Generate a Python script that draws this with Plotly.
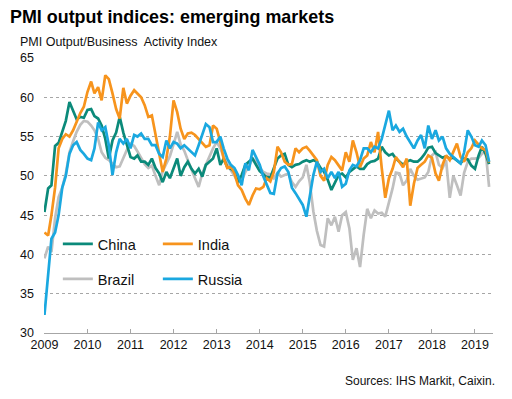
import pandas as pd
import plotly.graph_objects as go

start_month = "2009-01-01"
n_months = 125

china = [
    45.4, 48.4, 48.8, 53.8, 54.2, 55.5, 57.0, 59.4, 58.2, 57.2, 57.5, 57.4,
    58.4, 58.5, 57.6, 57.3, 56.4, 54.7, 52.2, 54.5, 55.5, 57.5, 55.5, 54.0,
    52.4, 52.2, 52.6, 51.8, 51.8, 51.4, 52.2, 51.0, 50.3, 49.2, 50.5, 49.7,
    51.0, 52.2, 50.0, 51.1, 51.8, 50.9, 50.3, 50.9, 49.9, 51.4, 51.8, 52.2,
    53.5, 51.4, 52.2, 51.1, 50.9, 50.5, 49.2, 50.1, 51.4, 51.8, 52.2, 51.4,
    50.6, 50.2, 49.8, 49.8, 50.9, 52.2, 52.6, 52.8, 51.4, 51.1, 51.4, 51.5,
    51.8, 52.0, 51.8, 52.0, 51.8, 51.0, 50.5, 49.5, 48.2, 49.2, 50.1, 50.3,
    49.8, 50.5, 50.9, 51.2, 50.9, 50.9, 51.5, 51.8, 51.9, 52.2, 53.7, 53.0,
    52.6, 52.8, 52.2, 51.8, 51.4, 51.8, 52.0, 51.8, 51.8, 52.2, 52.8, 53.6,
    53.7, 52.9, 52.6, 52.3, 52.5, 52.2, 52.3, 52.0, 51.6, 52.2, 52.1, 51.3,
    50.9, 52.6, 53.7, 52.8, 51.5,
]

india = [
    42.8, 42.4, 45.0, 48.5, 53.5, 54.7, 55.3, 55.0, 55.8, 56.9, 58.0, 58.8,
    60.7, 62.0, 60.5, 61.3, 59.6, 62.8, 62.3, 60.5, 58.5, 57.3, 61.2, 59.2,
    60.2, 60.9, 60.5, 60.0, 59.0, 57.5, 57.7, 55.2, 52.6, 50.5, 52.2, 55.0,
    59.6, 58.1, 56.0, 54.7, 55.4, 55.5, 55.2, 54.7, 54.3, 53.7, 53.9, 56.4,
    56.0, 54.3, 52.2, 51.0, 51.2, 50.3, 48.8, 48.2, 47.1, 46.3, 47.5, 48.4,
    48.3, 48.6, 49.7, 49.3, 50.5, 53.7, 53.0, 51.8, 51.4, 51.5, 53.5, 53.0,
    53.5, 53.7, 53.2, 52.6, 52.0, 50.0, 49.4, 51.4, 52.4, 52.0, 51.4, 50.7,
    53.0, 51.8, 54.5, 53.0, 51.1, 52.2, 52.6, 54.3, 53.0, 55.6, 51.0, 47.2,
    49.7, 50.9, 52.4, 51.8, 51.1, 52.2, 46.2, 49.0, 51.0, 51.4, 51.8, 52.6,
    52.3, 50.3, 49.4, 51.4, 52.6, 52.0, 53.0, 54.1, 52.4, 51.8, 53.0, 53.5,
    54.5, 53.9, 53.5, 53.3, 51.7,
]

brazil = [
    39.5, 41.0, 40.3, 44.6, 47.3, 48.5, 50.3, 53.0, 54.4, 55.6, 56.5, 57.0,
    56.9, 56.4, 55.8, 54.7, 53.0, 52.3, 52.0, 51.5, 51.1, 51.2, 52.4, 53.3,
    54.1, 53.8, 53.1, 52.3, 51.5, 51.0, 51.3, 50.0, 48.8, 50.6, 51.5, 52.5,
    54.0, 55.6, 54.0, 53.2, 52.0, 50.7, 49.7, 48.6, 50.3, 51.4, 52.6, 53.5,
    54.3, 53.5, 52.4, 51.5, 50.7, 50.0, 49.2, 49.4, 50.5, 51.2, 52.2, 51.8,
    51.0, 50.5, 50.3, 50.2, 49.7, 50.4, 49.9, 50.1, 50.3, 49.2, 48.6, 49.3,
    49.8, 51.4, 49.2, 45.5, 43.0, 41.2, 41.0, 44.6, 43.7, 44.8, 42.9, 45.0,
    45.4, 43.3, 39.3, 40.8, 38.4, 42.5, 45.8, 44.6, 45.6, 45.2, 45.3, 44.8,
    46.5, 48.4, 50.4, 50.3, 48.8, 49.4, 50.9, 50.0, 49.5, 49.6, 49.8, 50.5,
    52.6, 53.0, 51.4, 51.0, 52.0, 47.2, 50.0, 48.8, 47.5, 50.4, 51.8, 52.2,
    52.2, 52.3, 52.8, 53.2, 48.6,
]

russia = [
    32.3, 38.0, 42.0, 42.8, 45.0, 48.5, 50.0, 52.8, 53.9, 54.3, 53.3, 52.8,
    52.2, 52.0, 53.5, 56.8, 55.8, 56.2, 53.9, 50.1, 53.0, 54.7, 54.1, 54.7,
    53.5, 55.2, 55.0, 55.4, 54.7, 54.7, 53.9, 53.9, 52.8, 52.4, 54.5, 53.5,
    54.3, 54.1, 53.5, 53.9, 53.5, 53.0, 52.6, 53.9, 55.2, 56.6, 56.2, 54.3,
    54.3, 55.0, 53.5, 52.2, 51.4, 51.0, 50.1, 48.8, 51.6, 50.7, 53.3, 52.4,
    51.4, 49.9, 49.0, 47.8, 47.7, 50.3, 51.0, 51.2, 50.5, 48.5, 47.8, 47.1,
    46.3, 44.8, 47.5, 50.1, 51.8, 50.5, 50.9, 49.7, 50.5, 49.7, 50.5, 48.6,
    49.0, 50.7, 51.4, 51.2, 52.0, 53.5, 53.5, 53.0, 53.7, 53.5, 54.7, 56.4,
    58.3, 55.8, 56.4, 55.6, 56.0, 55.0, 54.3, 53.5, 54.5, 55.2, 53.5, 56.4,
    54.7, 55.8, 54.5, 55.0, 53.5, 52.8, 52.4, 52.0, 51.6, 53.0, 55.8, 55.0,
    53.9, 53.7, 54.5, 53.9, 51.8,
]

year_ticks = [str(y) for y in range(2009, 2020)]
y_ticks = [30, 35, 40, 45, 50, 55, 60, 65]

months = pd.date_range(start_month, periods=n_months, freq="MS")

FONT = "Arial, 'Liberation Sans', sans-serif"
series = [
    ("Brazil", brazil, "#BFBFBF", "legend2"),
    ("China", china, "#0B8A7A", "legend"),
    ("India", india, "#F7941D", "legend"),
    ("Russia", russia, "#1AA8E0", "legend2"),
]

fig = go.Figure()
for name, vals, color, lg in series:
    fig.add_trace(go.Scatter(
        x=months, y=vals, name=name, mode="lines",
        line=dict(color=color, width=2.7),
        legend=lg,
    ))

# the page body adds an 8px offset; work in window pixels and subtract it
OFF = 8
W, H = 512 - OFF, 399 - OFF
PL, PR, PT, PB = 39, 493, 58, 333          # plot area in window pixels
L, R, T, B = PL - OFF, W - (PR - OFF), PT - OFF, H - (PB - OFF)
pw, ph = PR - PL, PB - PT

def px_x(x):
    return (x - PL) / pw

def px_y(y):
    return (PB - y) / ph

legend_common = dict(
    orientation="h", xanchor="left", yanchor="middle",
    bgcolor="rgba(0,0,0,0)", font=dict(family=FONT, size=14.5, color="#111"),
    itemwidth=30, entrywidth=55, entrywidthmode="pixels",
    tracegroupgap=0, itemclick=False,
)

fig.update_layout(
    width=W, height=H,
    margin=dict(l=L, r=R, t=T, b=B),
    paper_bgcolor="white", plot_bgcolor="white",
    font=dict(family=FONT, color="#111"),
    title=dict(
        text="<b>PMI output indices: emerging markets</b>",
        x=(10 - OFF) / W, xanchor="left", xref="container",
        y=1 - (17 - OFF) / H, yanchor="middle", yref="container",
        font=dict(family=FONT, size=17.9, color="#000"),
    ),
    legend=dict(x=px_x(53), y=px_y(244), **legend_common),
    legend2=dict(x=px_x(53), y=px_y(279), **legend_common),
    showlegend=True,
    xaxis=dict(
        type="date",
        range=["2008-12-28", "2019-06-03"],
        tickvals=[f"{y}-01-01" for y in year_ticks],
        ticktext=year_ticks,
        showgrid=False,
        showline=True, linecolor="#A6A6A6", linewidth=1,
        ticks="inside", ticklen=4, tickcolor="#A6A6A6",
        tickfont=dict(family=FONT, size=12.5, color="#111"),
        zeroline=False,
    ),
    yaxis=dict(
        range=[30, 65],
        tickvals=y_ticks,
        showgrid=True, gridcolor="#A6A6A6", griddash="dot", gridwidth=1,
        showline=False, ticks="",
        ticklabelstandoff=9,
        tickfont=dict(family=FONT, size=12.5, color="#111"),
        zeroline=False,
    ),
    annotations=[
        dict(text="PMI Output/Business  Activity Index", xref="paper", yref="paper",
             x=px_x(13), y=px_y(42), xanchor="left", yanchor="middle",
             showarrow=False, font=dict(family=FONT, size=12.5, color="#111")),
        dict(text="Sources: IHS Markit, Caixin.", xref="paper", yref="paper",
             x=px_x(497), y=px_y(381), xanchor="right", yanchor="middle",
             showarrow=False, font=dict(family=FONT, size=12, color="#111")),
    ],
)

fig.write_html("out.html")
